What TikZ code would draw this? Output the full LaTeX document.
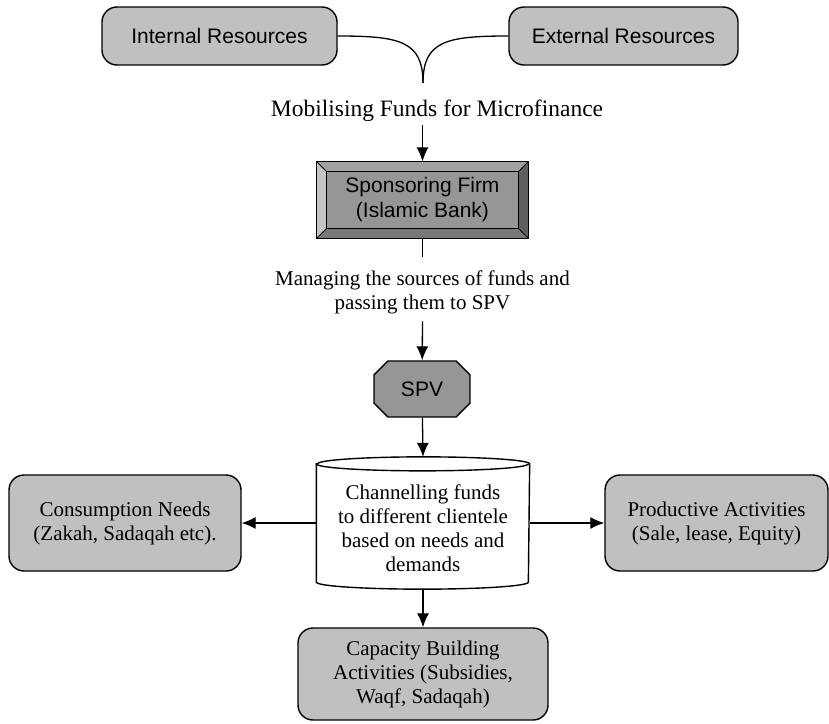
\documentclass[tikz,border=0pt]{standalone}
\usepackage{fontspec}
\setmainfont{Liberation Serif}
\newfontfamily\arialfont{Liberation Sans}
\usetikzlibrary{arrows.meta, calc, shapes.misc}

\definecolor{boxgrey}{HTML}{C0C0C0}
\definecolor{facegrey}{HTML}{969696}
\definecolor{bevlight}{HTML}{C4C4C4}
\definecolor{bevtop}{HTML}{A2A2A2}
\definecolor{bevright}{HTML}{5E5E5E}
\definecolor{bevbottom}{HTML}{787878}

\begin{document}
\begin{tikzpicture}[x=1pt, y=-1pt, >={Latex[length=14pt,width=12pt]}, line width=1.3pt,
  sansfont/.style={font=\arialfont\fontsize{21}{25}\selectfont},
  seriffont/.style={font=\fontsize{21}{24}\selectfont},
  greybox/.style={draw, fill=boxgrey, rounded corners=15pt, align=center, line width=1.4pt},
  plaintext/.style={seriffont, align=center, inner sep=3pt}]

\useasboundingbox (0,0) rectangle (829,723);

\node[greybox, sansfont, minimum width=235pt, minimum height=58pt] (int) at (219.5,36) {Internal Resources}; %int
\node[greybox, sansfont, minimum width=229pt, minimum height=58pt] (ext) at (623.5,36) {External Resources}; %ext
\coordinate (cusp) at (423,83);
\draw (int.east) .. controls ($(int.east)+(62,0)$) and ($(cusp)+(0,-42)$) .. (cusp);
\draw (ext.west) .. controls ($(ext.west)+(-62,0)$) and ($(cusp)+(0,-42)$) .. (cusp);

\node[plaintext, font=\fontsize{23.5}{27}\selectfont] (mobil) at (437,111) {Mobilising Funds for Microfinance};

% sponsoring firm with bevel
\node[draw, fill=facegrey, sansfont, align=center, minimum width=211pt, minimum height=76pt] (firm) at (422.5,200) {Sponsoring Firm\\(Islamic Bank)};
\fill[bevlight] (firm.north west) -- ($(firm.north west)+(10,10)$) -- ($(firm.south west)+(10,-10)$) -- (firm.south west) -- cycle;
\fill[bevtop] (firm.north west) -- (firm.north east) -- ($(firm.north east)+(-10,10)$) -- ($(firm.north west)+(10,10)$) -- cycle;
\fill[bevright] (firm.north east) -- (firm.south east) -- ($(firm.south east)+(-10,-10)$) -- ($(firm.north east)+(-10,10)$) -- cycle;
\fill[bevbottom] (firm.south west) -- (firm.south east) -- ($(firm.south east)+(-10,-10)$) -- ($(firm.south west)+(10,-10)$) -- cycle;
\draw[line width=0.8pt] ($(firm.north west)+(10,10)$) rectangle ($(firm.south east)+(-10,-10)$);
\draw[line width=0.8pt] (firm.north west) -- ($(firm.north west)+(10,10)$) (firm.north east) -- ($(firm.north east)+(-10,10)$)
  (firm.south west) -- ($(firm.south west)+(10,-10)$) (firm.south east) -- ($(firm.south east)+(-10,-10)$);
\draw[line width=1.4pt] (firm.north west) rectangle (firm.south east);

\node[plaintext] (manage) at (422.5,292) {Managing the sources of funds and\\passing them to SPV};

\node[draw, fill=facegrey, sansfont, chamfered rectangle, chamfered rectangle angle=45, chamfered rectangle xsep=14pt,
  minimum width=96pt, minimum height=56pt, line width=1.4pt] (spv) at (422,389) {SPV};

% cylinder
\node[minimum width=212pt, minimum height=117pt] (chan) at (423,523) {};
\draw[fill=white, line width=1.4pt] (chan.north west) -- (chan.south west) arc[start angle=180, end angle=360, x radius=106pt, y radius=7pt]
  -- (chan.north east) arc[start angle=0, end angle=180, x radius=106pt, y radius=7pt] -- cycle;
\draw[line width=1.4pt] (chan.north west) arc[start angle=180, end angle=360, x radius=106pt, y radius=7pt];
\node[plaintext] (chantext) at (423,528) {Channelling funds\\to different clientele\\based on needs and\\demands};

\node[greybox, seriffont, minimum width=232pt, minimum height=96pt] (cons) at (125,523) {Consumption Needs\\(Zakah, Sadaqah etc).}; %cons
\node[greybox, seriffont, minimum width=223pt, minimum height=96pt] (prod) at (716.5,523) {Productive Activities\\(Sale, lease, Equity)}; %prod
\node[greybox, seriffont, minimum width=250pt, minimum height=92pt] (cap) at (423,674) {Capacity Building\\Activities (Subsidies,\\Waqf, Sadaqah)}; %cap

\draw[->] (mobil.south -| firm.north) -- (firm);
\draw (firm) -- ($(manage.north)+(0,-10)$);
\draw[->] ($(manage.south)+(0,4)$) -- (spv);
\draw[->] (spv) -- ($(chan.north)+(0,-7)$);
\draw[->] (chan.west) -- (cons.east);
\draw[->] (chan.east) -- (prod.west);
\draw[->] ($(chan.south)+(0,7)$) -- (cap);

\end{tikzpicture}
\end{document}
